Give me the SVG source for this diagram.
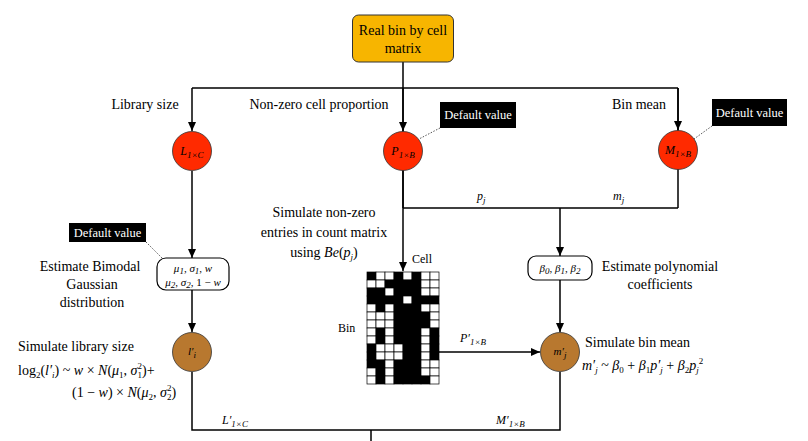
<svg xmlns="http://www.w3.org/2000/svg" width="808" height="441" viewBox="0 0 808 441">
<defs>
<marker id="ah" markerUnits="userSpaceOnUse" markerWidth="9" markerHeight="8" refX="9" refY="4" orient="auto">
<path d="M0,0 L9,4 L0,8 z" fill="#000"/>
</marker>
<style>
text{font-family:"Liberation Serif","Times New Roman",serif;fill:#000}
.t{font-size:14px}
.c{text-anchor:middle}
.m{font-style:italic}
.s{font-size:9px}
.dv rect{fill:#000}
.dv text{fill:#fff;font-size:12.5px;text-anchor:middle}
.ln{fill:none;stroke:#000;stroke-width:1.5}
.dot{fill:none;stroke:#444;stroke-width:0.9;stroke-dasharray:1.5 1.5}
.red{fill:#FF2A00;stroke:#333;stroke-width:0.8}
.brn{fill:#B8782F;stroke:#333;stroke-width:0.8}
.pb{fill:#fff;stroke:#000;stroke-width:1.2}
.g rect{stroke:#000;stroke-width:0.7}
.w{fill:#fff}
.b{fill:#000}
</style>
</defs>

<g id="connectors">
<path class="ln" d="M403 62 V88 M192 88 H678 M678 88 V208 M403 88 V208 M403 208 H678"/>
<path class="ln" d="M192 88 V131" marker-end="url(#ah)"/>
<path class="ln" d="M403 88 V131" marker-end="url(#ah)"/>
<path class="ln" d="M678 88 V130" marker-end="url(#ah)"/>
<path class="ln" d="M192 171 V258" marker-end="url(#ah)"/>
<path class="ln" d="M192 290 V332" marker-end="url(#ah)"/>
<path class="ln" d="M192 372 V430 H560 V372 M371 430 V441"/>
<path class="ln" d="M403 170 V271" marker-end="url(#ah)"/>
<path class="ln" d="M560 208 V256" marker-end="url(#ah)"/>
<path class="ln" d="M560 280 V332" marker-end="url(#ah)"/>
<path class="ln" d="M439 352 H540" marker-end="url(#ah)"/>
<path class="dot" d="M440 128 L419 139 M712 126 L694 139 M146 242 L164 260"/>
<text class="t" x="145" y="109" text-anchor="middle">Library size</text>
<text class="t" x="319" y="109" text-anchor="middle">Non-zero cell proportion</text>
<text class="t" x="639" y="109" text-anchor="middle">Bin mean</text>
<text class="m" x="477" y="200" font-size="12">p<tspan class="s" dy="3">j</tspan></text>
<text class="m" x="613" y="200" font-size="12">m<tspan class="s" dy="3">j</tspan></text>
<text class="m" x="460" y="342" font-size="12">P′<tspan class="s" dy="3">1×B</tspan></text>
<text class="m" x="222" y="424" font-size="12">L′<tspan class="s" dy="3">1×C</tspan></text>
<text class="m" x="496" y="424" font-size="12">M′<tspan class="s" dy="3">1×B</tspan></text>
</g>

<g id="real-matrix">
<rect x="352.5" y="15" width="101" height="47" rx="6" fill="#F7B500" stroke="#333" stroke-width="1"/>
<text class="t c" x="403" y="35">Real bin by cell</text>
<text class="t c" x="403" y="53">matrix</text>
</g>

<g id="node-L">
<circle class="red" cx="192" cy="151" r="19.5"/>
<text class="m c" x="192" y="155" font-size="12">L<tspan class="s" dy="3">1×C</tspan></text>
</g>

<g id="node-P">
<circle class="red" cx="403" cy="151" r="19.5"/>
<text class="m c" x="403" y="155" font-size="12">P<tspan class="s" dy="3">1×B</tspan></text>
</g>

<g id="node-M">
<circle class="red" cx="678" cy="150" r="19.5"/>
<text class="m c" x="678" y="154" font-size="12">M<tspan class="s" dy="3">1×B</tspan></text>
</g>

<g id="default-P" class="dv">
<rect x="440" y="102" width="76" height="26"/>
<text x="478" y="119">Default value</text>
</g>

<g id="default-M" class="dv">
<rect x="712" y="99" width="75" height="27"/>
<text x="749.5" y="117">Default value</text>
</g>

<g id="default-L" class="dv">
<rect x="69" y="223" width="77" height="19"/>
<text x="107.5" y="237">Default value</text>
</g>

<g id="node-params-L">
<rect class="pb" x="157" y="258" width="72" height="32" rx="9"/>
<text class="m c" x="193" y="272" font-size="11">μ<tspan class="s" dy="2">1</tspan><tspan dy="-2" font-style="normal">, </tspan>σ<tspan class="s" dy="2">1</tspan><tspan dy="-2" font-style="normal">, </tspan>w</text>
<text class="m c" x="193" y="286" font-size="11">μ<tspan class="s" dy="2">2</tspan><tspan dy="-2" font-style="normal">, </tspan>σ<tspan class="s" dy="2">2</tspan><tspan dy="-2" font-style="normal">, 1 − </tspan>w</text>
<text class="t c" x="90" y="271">Estimate Bimodal</text>
<text class="t c" x="92" y="289">Gaussian</text>
<text class="t c" x="92" y="307">distribution</text>
</g>

<g id="node-params-M">
<rect class="pb" x="528" y="256" width="64" height="24" rx="8"/>
<text class="m c" x="560" y="272" font-size="11">β<tspan class="s" dy="2">0</tspan><tspan dy="-2" font-style="normal">, </tspan>β<tspan class="s" dy="2">1</tspan><tspan dy="-2" font-style="normal">, </tspan>β<tspan class="s" dy="2">2</tspan></text>
<text class="t c" x="660" y="271">Estimate polynomial</text>
<text class="t c" x="660" y="289">coefficients</text>
</g>

<g id="node-grid">
<text class="t c" x="324" y="217">Simulate non-zero</text>
<text class="t c" x="324" y="237">entries in count matrix</text>
<text class="t c" x="324" y="257">using <tspan class="m">Be</tspan>(<tspan class="m">p</tspan><tspan class="s m" dy="3">j</tspan><tspan dy="-3">)</tspan></text>
<text x="412" y="263" font-size="12">Cell</text>
<text x="338" y="332" font-size="12">Bin</text>
<g class="g">
<rect class="b" x="367" y="272" width="9" height="8"/><rect class="w" x="376" y="272" width="9" height="8"/><rect class="w" x="385" y="272" width="9" height="8"/><rect class="b" x="394" y="272" width="9" height="8"/><rect class="w" x="403" y="272" width="9" height="8"/><rect class="b" x="412" y="272" width="9" height="8"/><rect class="w" x="421" y="272" width="9" height="8"/><rect class="w" x="430" y="272" width="9" height="8"/>
<rect class="w" x="367" y="280" width="9" height="8"/><rect class="w" x="376" y="280" width="9" height="8"/><rect class="b" x="385" y="280" width="9" height="8"/><rect class="b" x="394" y="280" width="9" height="8"/><rect class="b" x="403" y="280" width="9" height="8"/><rect class="b" x="412" y="280" width="9" height="8"/><rect class="w" x="421" y="280" width="9" height="8"/><rect class="w" x="430" y="280" width="9" height="8"/>
<rect class="b" x="367" y="288" width="9" height="8"/><rect class="b" x="376" y="288" width="9" height="8"/><rect class="w" x="385" y="288" width="9" height="8"/><rect class="b" x="394" y="288" width="9" height="8"/><rect class="b" x="403" y="288" width="9" height="8"/><rect class="b" x="412" y="288" width="9" height="8"/><rect class="w" x="421" y="288" width="9" height="8"/><rect class="w" x="430" y="288" width="9" height="8"/>
<rect class="b" x="367" y="296" width="9" height="8"/><rect class="b" x="376" y="296" width="9" height="8"/><rect class="b" x="385" y="296" width="9" height="8"/><rect class="b" x="394" y="296" width="9" height="8"/><rect class="w" x="403" y="296" width="9" height="8"/><rect class="b" x="412" y="296" width="9" height="8"/><rect class="b" x="421" y="296" width="9" height="8"/><rect class="b" x="430" y="296" width="9" height="8"/>
<rect class="w" x="367" y="304" width="9" height="8"/><rect class="b" x="376" y="304" width="9" height="8"/><rect class="w" x="385" y="304" width="9" height="8"/><rect class="b" x="394" y="304" width="9" height="8"/><rect class="b" x="403" y="304" width="9" height="8"/><rect class="b" x="412" y="304" width="9" height="8"/><rect class="w" x="421" y="304" width="9" height="8"/><rect class="w" x="430" y="304" width="9" height="8"/>
<rect class="w" x="367" y="312" width="9" height="8"/><rect class="w" x="376" y="312" width="9" height="8"/><rect class="w" x="385" y="312" width="9" height="8"/><rect class="b" x="394" y="312" width="9" height="8"/><rect class="b" x="403" y="312" width="9" height="8"/><rect class="b" x="412" y="312" width="9" height="8"/><rect class="b" x="421" y="312" width="9" height="8"/><rect class="w" x="430" y="312" width="9" height="8"/>
<rect class="w" x="367" y="320" width="9" height="8"/><rect class="w" x="376" y="320" width="9" height="8"/><rect class="w" x="385" y="320" width="9" height="8"/><rect class="b" x="394" y="320" width="9" height="8"/><rect class="b" x="403" y="320" width="9" height="8"/><rect class="b" x="412" y="320" width="9" height="8"/><rect class="b" x="421" y="320" width="9" height="8"/><rect class="w" x="430" y="320" width="9" height="8"/>
<rect class="w" x="367" y="328" width="9" height="8"/><rect class="b" x="376" y="328" width="9" height="8"/><rect class="w" x="385" y="328" width="9" height="8"/><rect class="b" x="394" y="328" width="9" height="8"/><rect class="b" x="403" y="328" width="9" height="8"/><rect class="b" x="412" y="328" width="9" height="8"/><rect class="w" x="421" y="328" width="9" height="8"/><rect class="b" x="430" y="328" width="9" height="8"/>
<rect class="w" x="367" y="336" width="9" height="8"/><rect class="b" x="376" y="336" width="9" height="8"/><rect class="w" x="385" y="336" width="9" height="8"/><rect class="b" x="394" y="336" width="9" height="8"/><rect class="b" x="403" y="336" width="9" height="8"/><rect class="b" x="412" y="336" width="9" height="8"/><rect class="w" x="421" y="336" width="9" height="8"/><rect class="b" x="430" y="336" width="9" height="8"/>
<rect class="b" x="367" y="344" width="9" height="8"/><rect class="w" x="376" y="344" width="9" height="8"/><rect class="w" x="385" y="344" width="9" height="8"/><rect class="w" x="394" y="344" width="9" height="8"/><rect class="b" x="403" y="344" width="9" height="8"/><rect class="b" x="412" y="344" width="9" height="8"/><rect class="w" x="421" y="344" width="9" height="8"/><rect class="b" x="430" y="344" width="9" height="8"/>
<rect class="b" x="367" y="352" width="9" height="8"/><rect class="w" x="376" y="352" width="9" height="8"/><rect class="w" x="385" y="352" width="9" height="8"/><rect class="w" x="394" y="352" width="9" height="8"/><rect class="b" x="403" y="352" width="9" height="8"/><rect class="b" x="412" y="352" width="9" height="8"/><rect class="w" x="421" y="352" width="9" height="8"/><rect class="b" x="430" y="352" width="9" height="8"/>
<rect class="b" x="367" y="360" width="9" height="8"/><rect class="b" x="376" y="360" width="9" height="8"/><rect class="w" x="385" y="360" width="9" height="8"/><rect class="b" x="394" y="360" width="9" height="8"/><rect class="b" x="403" y="360" width="9" height="8"/><rect class="b" x="412" y="360" width="9" height="8"/><rect class="w" x="421" y="360" width="9" height="8"/><rect class="w" x="430" y="360" width="9" height="8"/>
<rect class="w" x="367" y="368" width="9" height="8"/><rect class="b" x="376" y="368" width="9" height="8"/><rect class="w" x="385" y="368" width="9" height="8"/><rect class="b" x="394" y="368" width="9" height="8"/><rect class="b" x="403" y="368" width="9" height="8"/><rect class="b" x="412" y="368" width="9" height="8"/><rect class="w" x="421" y="368" width="9" height="8"/><rect class="w" x="430" y="368" width="9" height="8"/>
<rect class="w" x="367" y="376" width="9" height="8"/><rect class="b" x="376" y="376" width="9" height="8"/><rect class="w" x="385" y="376" width="9" height="8"/><rect class="b" x="394" y="376" width="9" height="8"/><rect class="b" x="403" y="376" width="9" height="8"/><rect class="b" x="412" y="376" width="9" height="8"/><rect class="b" x="421" y="376" width="9" height="8"/><rect class="w" x="430" y="376" width="9" height="8"/>
</g>
</g>

<g id="node-l">
<circle class="brn" cx="192" cy="352" r="19.5"/>
<text class="m c" x="192" y="355" font-size="11">l′<tspan class="s" dy="3">i</tspan></text>
<text class="t" x="18" y="351">Simulate library size</text>
<text class="t" x="18" y="375">log<tspan class="s" dy="3">2</tspan><tspan dy="-3">(</tspan><tspan class="m">l′</tspan><tspan class="s m" dy="3">i</tspan><tspan dy="-3">) ~ </tspan><tspan class="m">w</tspan> × <tspan class="m">N</tspan>(<tspan class="m">μ</tspan><tspan class="s" dy="3">1</tspan><tspan dy="-3">, </tspan><tspan class="m">σ</tspan><tspan class="s" dy="3">1</tspan><tspan class="s" dx="-4.5" dy="-9">2</tspan><tspan dy="6">)+</tspan></text>
<text class="t" x="72" y="397">(1 − <tspan class="m">w</tspan>) × <tspan class="m">N</tspan>(<tspan class="m">μ</tspan><tspan class="s" dy="3">2</tspan><tspan dy="-3">, </tspan><tspan class="m">σ</tspan><tspan class="s" dy="3">2</tspan><tspan class="s" dx="-4.5" dy="-9">2</tspan><tspan dy="6">)</tspan></text>
</g>

<g id="node-m">
<circle class="brn" cx="560" cy="352" r="19.5"/>
<text class="m c" x="560" y="355" font-size="11">m′<tspan class="s" dy="3">j</tspan></text>
<text class="t" x="585" y="347">Simulate bin mean</text>
<text class="t" x="582" y="370"><tspan class="m">m′</tspan><tspan class="s m" dy="3">j</tspan><tspan dy="-3"> ~ </tspan><tspan class="m">β</tspan><tspan class="s" dy="3">0</tspan><tspan dy="-3"> + </tspan><tspan class="m">β</tspan><tspan class="s" dy="3">1</tspan><tspan class="m" dy="-3">p′</tspan><tspan class="s m" dy="3">j</tspan><tspan dy="-3"> + </tspan><tspan class="m">β</tspan><tspan class="s" dy="3">2</tspan><tspan class="m" dy="-3">p</tspan><tspan class="s m" dy="3">j</tspan><tspan class="s" dy="-9">2</tspan></text>
</g>
</svg>
